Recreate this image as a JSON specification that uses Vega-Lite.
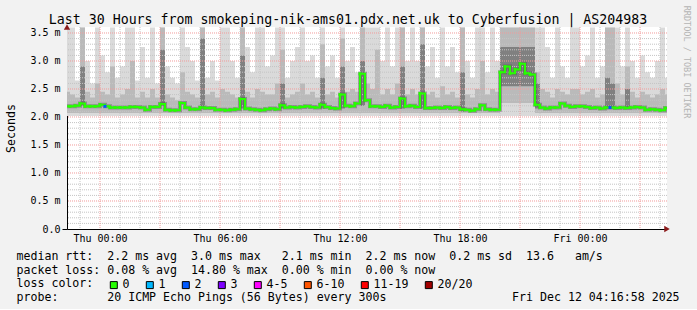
{
"$schema": "https://vega.github.io/schema/vega-lite/v6.json",
"width": 600,
"height": 202,
"padding": {"left": 5, "top": 5, "right": 7, "bottom": 5},
"background": "#f2f2f2",
"config": {
  "font": "DejaVu Sans Mono",
  "view": {"stroke": null, "fill": "#ffffff"},
  "axis": {"labelFont": "DejaVu Sans Mono", "titleFont": "DejaVu Sans Mono"},
  "legend": {"labelFont": "DejaVu Sans Mono", "titleFont": "DejaVu Sans Mono"}
},
"datasets": {
"main": [
{"t":"2025-12-10T22:15","m":2.19,"l":"0","a":2.02,"b":3.6,"c":2.07,"d":2.45,"e":0,"f":0},
{"t":"2025-12-10T22:30","m":2.19,"l":"0","a":2.02,"b":3.6,"c":2.07,"d":2.4,"e":0,"f":0},
{"t":"2025-12-10T22:45","m":2.20,"l":"0","a":2.02,"b":2.65,"c":2.07,"d":2.35,"e":0,"f":0},
{"t":"2025-12-10T23:00","m":2.24,"l":"0","a":2.02,"b":3.6,"c":2.07,"d":3.6,"e":2.2,"f":2.9},
{"t":"2025-12-10T23:15","m":2.19,"l":"0","a":2.02,"b":3.0,"c":2.07,"d":2.45,"e":0,"f":0},
{"t":"2025-12-10T23:30","m":2.19,"l":"0","a":2.02,"b":2.6,"c":2.07,"d":2.35,"e":0,"f":0},
{"t":"2025-12-10T23:45","m":2.19,"l":"0","a":2.02,"b":3.6,"c":2.07,"d":2.6,"e":0,"f":0},
{"t":"2025-12-11T00:00","m":2.22,"l":"0","a":2.02,"b":3.1,"c":2.07,"d":2.45,"e":0,"f":0},
{"t":"2025-12-11T00:15","m":2.19,"l":"2","a":2.02,"b":2.8,"c":2.07,"d":2.4,"e":0,"f":0},
{"t":"2025-12-11T00:30","m":2.17,"l":"0","a":2.02,"b":3.6,"c":2.07,"d":2.9,"e":0,"f":0},
{"t":"2025-12-11T00:45","m":2.17,"l":"0","a":2.02,"b":2.7,"c":2.07,"d":2.35,"e":0,"f":0},
{"t":"2025-12-11T01:00","m":2.17,"l":"0","a":2.02,"b":2.9,"c":2.07,"d":2.4,"e":0,"f":0},
{"t":"2025-12-11T01:15","m":2.17,"l":"0","a":2.02,"b":3.6,"c":2.07,"d":2.5,"e":0,"f":0},
{"t":"2025-12-11T01:30","m":2.18,"l":"0","a":2.02,"b":3.6,"c":2.07,"d":3.0,"e":0,"f":0},
{"t":"2025-12-11T01:45","m":2.18,"l":"0","a":2.02,"b":2.65,"c":2.07,"d":2.35,"e":0,"f":0},
{"t":"2025-12-11T02:00","m":2.17,"l":"0","a":2.02,"b":3.25,"c":2.07,"d":2.45,"e":0,"f":0},
{"t":"2025-12-11T02:15","m":2.13,"l":"0","a":2.02,"b":2.7,"c":2.07,"d":2.35,"e":0,"f":0},
{"t":"2025-12-11T02:30","m":2.18,"l":"0","a":2.02,"b":3.6,"c":2.07,"d":2.5,"e":0,"f":0},
{"t":"2025-12-11T02:45","m":2.18,"l":"0","a":2.02,"b":2.6,"c":2.07,"d":2.35,"e":0,"f":0},
{"t":"2025-12-11T03:00","m":2.23,"l":"0","a":2.02,"b":3.6,"c":2.07,"d":3.6,"e":2.2,"f":3.2},
{"t":"2025-12-11T03:15","m":2.13,"l":"0","a":2.02,"b":2.9,"c":2.07,"d":2.4,"e":0,"f":0},
{"t":"2025-12-11T03:30","m":2.12,"l":"0","a":2.02,"b":2.7,"c":2.07,"d":2.35,"e":0,"f":0},
{"t":"2025-12-11T03:45","m":2.12,"l":"0","a":2.02,"b":2.6,"c":2.07,"d":2.3,"e":0,"f":0},
{"t":"2025-12-11T04:00","m":2.25,"l":"0","a":2.02,"b":3.6,"c":2.07,"d":2.8,"e":0,"f":0},
{"t":"2025-12-11T04:15","m":2.17,"l":"0","a":2.02,"b":3.25,"c":2.07,"d":2.45,"e":0,"f":0},
{"t":"2025-12-11T04:30","m":2.14,"l":"0","a":2.02,"b":3.0,"c":2.07,"d":2.4,"e":0,"f":0},
{"t":"2025-12-11T04:45","m":2.14,"l":"0","a":2.02,"b":2.65,"c":2.07,"d":2.35,"e":0,"f":0},
{"t":"2025-12-11T05:00","m":2.17,"l":"0","a":2.02,"b":3.6,"c":2.07,"d":3.6,"e":2.15,"f":3.4},
{"t":"2025-12-11T05:15","m":2.16,"l":"0","a":2.02,"b":2.7,"c":2.07,"d":2.4,"e":0,"f":0},
{"t":"2025-12-11T05:30","m":2.16,"l":"0","a":2.02,"b":3.0,"c":2.07,"d":2.45,"e":0,"f":0},
{"t":"2025-12-11T05:45","m":2.13,"l":"0","a":2.02,"b":2.65,"c":2.07,"d":2.35,"e":0,"f":0},
{"t":"2025-12-11T06:00","m":2.13,"l":"0","a":2.02,"b":3.6,"c":2.07,"d":2.5,"e":0,"f":0},
{"t":"2025-12-11T06:15","m":2.12,"l":"0","a":2.02,"b":3.6,"c":2.07,"d":2.45,"e":0,"f":0},
{"t":"2025-12-11T06:30","m":2.13,"l":"0","a":2.02,"b":3.0,"c":2.07,"d":2.4,"e":0,"f":0},
{"t":"2025-12-11T06:45","m":2.14,"l":"0","a":2.02,"b":2.7,"c":2.07,"d":2.35,"e":0,"f":0},
{"t":"2025-12-11T07:00","m":2.32,"l":"0","a":2.02,"b":3.6,"c":2.07,"d":3.6,"e":2.15,"f":3.1},
{"t":"2025-12-11T07:15","m":2.15,"l":"0","a":2.02,"b":3.25,"c":2.07,"d":2.45,"e":0,"f":0},
{"t":"2025-12-11T07:30","m":2.14,"l":"0","a":2.02,"b":2.8,"c":2.07,"d":2.35,"e":0,"f":0},
{"t":"2025-12-11T07:45","m":2.13,"l":"0","a":2.02,"b":3.6,"c":2.07,"d":2.5,"e":0,"f":0},
{"t":"2025-12-11T08:00","m":2.12,"l":"0","a":2.02,"b":3.6,"c":2.07,"d":2.45,"e":0,"f":0},
{"t":"2025-12-11T08:15","m":2.14,"l":"0","a":2.02,"b":2.9,"c":2.07,"d":2.4,"e":0,"f":0},
{"t":"2025-12-11T08:30","m":2.15,"l":"0","a":2.02,"b":3.1,"c":2.07,"d":2.4,"e":0,"f":0},
{"t":"2025-12-11T08:45","m":2.14,"l":"0","a":2.02,"b":3.6,"c":2.07,"d":2.6,"e":0,"f":0},
{"t":"2025-12-11T09:00","m":2.21,"l":"0","a":2.02,"b":3.6,"c":2.07,"d":3.2,"e":2.15,"f":2.6},
{"t":"2025-12-11T09:15","m":2.17,"l":"0","a":2.02,"b":2.7,"c":2.07,"d":2.35,"e":0,"f":0},
{"t":"2025-12-11T09:30","m":2.18,"l":"0","a":2.02,"b":3.0,"c":2.07,"d":2.4,"e":0,"f":0},
{"t":"2025-12-11T09:45","m":2.17,"l":"0","a":2.02,"b":3.25,"c":2.07,"d":2.45,"e":0,"f":0},
{"t":"2025-12-11T10:00","m":2.18,"l":"0","a":2.02,"b":3.6,"c":2.07,"d":2.6,"e":0,"f":0},
{"t":"2025-12-11T10:15","m":2.19,"l":"0","a":2.02,"b":3.0,"c":2.07,"d":2.4,"e":0,"f":0},
{"t":"2025-12-11T10:30","m":2.18,"l":"0","a":2.02,"b":3.1,"c":2.07,"d":2.45,"e":0,"f":0},
{"t":"2025-12-11T10:45","m":2.17,"l":"0","a":2.02,"b":2.7,"c":2.07,"d":2.35,"e":0,"f":0},
{"t":"2025-12-11T11:00","m":2.22,"l":"0","a":2.02,"b":3.6,"c":2.07,"d":3.3,"e":2.15,"f":2.7},
{"t":"2025-12-11T11:15","m":2.18,"l":"0","a":2.02,"b":2.9,"c":2.07,"d":2.4,"e":0,"f":0},
{"t":"2025-12-11T11:30","m":2.16,"l":"0","a":2.02,"b":3.1,"c":2.07,"d":2.45,"e":0,"f":0},
{"t":"2025-12-11T11:45","m":2.15,"l":"0","a":2.02,"b":2.7,"c":2.07,"d":2.35,"e":0,"f":0},
{"t":"2025-12-11T12:00","m":2.40,"l":"0","a":2.02,"b":3.6,"c":2.07,"d":3.4,"e":2.15,"f":2.9},
{"t":"2025-12-11T12:15","m":2.20,"l":"0","a":2.02,"b":3.0,"c":2.07,"d":2.45,"e":0,"f":0},
{"t":"2025-12-11T12:30","m":2.19,"l":"0","a":2.02,"b":3.25,"c":2.07,"d":2.5,"e":0,"f":0},
{"t":"2025-12-11T12:45","m":2.24,"l":"0","a":2.02,"b":2.8,"c":2.07,"d":2.45,"e":0,"f":0},
{"t":"2025-12-11T13:00","m":2.77,"l":"0","a":2.02,"b":3.6,"c":2.07,"d":3.6,"e":2.2,"f":3.0},
{"t":"2025-12-11T13:15","m":2.30,"l":"0","a":2.02,"b":3.6,"c":2.07,"d":2.6,"e":0,"f":0},
{"t":"2025-12-11T13:30","m":2.19,"l":"0","a":2.02,"b":3.6,"c":2.07,"d":2.5,"e":0,"f":0},
{"t":"2025-12-11T13:45","m":2.19,"l":"0","a":2.02,"b":3.6,"c":2.07,"d":3.2,"e":0,"f":0},
{"t":"2025-12-11T14:00","m":2.18,"l":"0","a":2.02,"b":3.0,"c":2.07,"d":2.4,"e":0,"f":0},
{"t":"2025-12-11T14:15","m":2.20,"l":"0","a":2.02,"b":3.6,"c":2.07,"d":2.5,"e":0,"f":0},
{"t":"2025-12-11T14:30","m":2.17,"l":"0","a":2.02,"b":2.9,"c":2.07,"d":2.4,"e":0,"f":0},
{"t":"2025-12-11T14:45","m":2.18,"l":"0","a":2.02,"b":3.6,"c":2.07,"d":2.6,"e":0,"f":0},
{"t":"2025-12-11T15:00","m":2.33,"l":"0","a":2.02,"b":3.6,"c":2.07,"d":3.6,"e":2.15,"f":2.9},
{"t":"2025-12-11T15:15","m":2.19,"l":"0","a":2.02,"b":3.0,"c":2.07,"d":2.4,"e":0,"f":0},
{"t":"2025-12-11T15:30","m":2.20,"l":"0","a":2.02,"b":3.6,"c":2.07,"d":2.5,"e":0,"f":0},
{"t":"2025-12-11T15:45","m":2.18,"l":"0","a":2.02,"b":3.0,"c":2.07,"d":2.4,"e":0,"f":0},
{"t":"2025-12-11T16:00","m":2.42,"l":"0","a":2.02,"b":3.6,"c":2.07,"d":3.6,"e":2.15,"f":3.3},
{"t":"2025-12-11T16:15","m":2.16,"l":"0","a":2.02,"b":2.9,"c":2.07,"d":2.4,"e":0,"f":0},
{"t":"2025-12-11T16:30","m":2.16,"l":"0","a":2.02,"b":3.25,"c":2.07,"d":2.45,"e":0,"f":0},
{"t":"2025-12-11T16:45","m":2.17,"l":"0","a":2.02,"b":2.7,"c":2.07,"d":2.35,"e":0,"f":0},
{"t":"2025-12-11T17:00","m":2.16,"l":"0","a":2.02,"b":3.6,"c":2.07,"d":2.55,"e":0,"f":0},
{"t":"2025-12-11T17:15","m":2.18,"l":"0","a":2.02,"b":2.9,"c":2.07,"d":2.4,"e":0,"f":0},
{"t":"2025-12-11T17:30","m":2.16,"l":"0","a":2.02,"b":3.25,"c":2.07,"d":2.45,"e":0,"f":0},
{"t":"2025-12-11T17:45","m":2.17,"l":"0","a":2.02,"b":2.8,"c":2.07,"d":2.35,"e":0,"f":0},
{"t":"2025-12-11T18:00","m":2.14,"l":"0","a":2.02,"b":3.6,"c":2.07,"d":3.6,"e":2.1,"f":2.8},
{"t":"2025-12-11T18:15","m":2.13,"l":"0","a":2.02,"b":3.0,"c":2.07,"d":2.4,"e":0,"f":0},
{"t":"2025-12-11T18:30","m":2.11,"l":"0","a":2.02,"b":2.7,"c":2.07,"d":2.35,"e":0,"f":0},
{"t":"2025-12-11T18:45","m":2.14,"l":"0","a":2.02,"b":3.6,"c":2.07,"d":2.5,"e":0,"f":0},
{"t":"2025-12-11T19:00","m":2.21,"l":"0","a":2.02,"b":3.6,"c":2.07,"d":3.0,"e":0,"f":0},
{"t":"2025-12-11T19:15","m":2.14,"l":"0","a":2.02,"b":2.8,"c":2.07,"d":2.4,"e":0,"f":0},
{"t":"2025-12-11T19:30","m":2.13,"l":"0","a":2.02,"b":3.6,"c":2.07,"d":2.5,"e":0,"f":0},
{"t":"2025-12-11T19:45","m":2.13,"l":"0","a":2.02,"b":3.0,"c":2.07,"d":2.45,"e":0,"f":0},
{"t":"2025-12-11T20:00","m":2.80,"l":"0","a":2.02,"b":3.6,"c":2.25,"d":3.6,"e":2.55,"f":3.25},
{"t":"2025-12-11T20:15","m":2.90,"l":"0","a":2.02,"b":3.6,"c":2.25,"d":3.6,"e":2.55,"f":3.25},
{"t":"2025-12-11T20:30","m":2.78,"l":"0","a":2.02,"b":3.6,"c":2.25,"d":3.6,"e":2.55,"f":3.25},
{"t":"2025-12-11T20:45","m":2.85,"l":"0","a":2.02,"b":3.6,"c":2.25,"d":3.6,"e":2.55,"f":3.25},
{"t":"2025-12-11T21:00","m":2.95,"l":"0","a":2.02,"b":3.6,"c":2.25,"d":3.6,"e":2.55,"f":3.25},
{"t":"2025-12-11T21:15","m":2.78,"l":"0","a":2.02,"b":3.6,"c":2.25,"d":3.6,"e":2.55,"f":3.25},
{"t":"2025-12-11T21:30","m":2.76,"l":"0","a":2.02,"b":3.6,"c":2.25,"d":3.6,"e":2.55,"f":3.25},
{"t":"2025-12-11T21:45","m":2.22,"l":"0","a":2.02,"b":3.6,"c":2.07,"d":2.8,"e":2.15,"f":2.6},
{"t":"2025-12-11T22:00","m":2.17,"l":"0","a":2.02,"b":3.6,"c":2.07,"d":2.5,"e":0,"f":0},
{"t":"2025-12-11T22:15","m":2.15,"l":"0","a":2.02,"b":3.25,"c":2.07,"d":2.45,"e":0,"f":0},
{"t":"2025-12-11T22:30","m":2.17,"l":"0","a":2.02,"b":2.7,"c":2.07,"d":2.35,"e":0,"f":0},
{"t":"2025-12-11T22:45","m":2.17,"l":"0","a":2.02,"b":3.6,"c":2.07,"d":2.5,"e":0,"f":0},
{"t":"2025-12-11T23:00","m":2.24,"l":"0","a":2.02,"b":2.9,"c":2.07,"d":2.45,"e":0,"f":0},
{"t":"2025-12-11T23:15","m":2.20,"l":"0","a":2.02,"b":2.7,"c":2.07,"d":2.4,"e":0,"f":0},
{"t":"2025-12-11T23:30","m":2.18,"l":"0","a":2.02,"b":3.6,"c":2.07,"d":2.5,"e":0,"f":0},
{"t":"2025-12-11T23:45","m":2.19,"l":"0","a":2.02,"b":3.6,"c":2.07,"d":2.5,"e":0,"f":0},
{"t":"2025-12-12T00:00","m":2.19,"l":"0","a":2.02,"b":2.9,"c":2.07,"d":2.4,"e":0,"f":0},
{"t":"2025-12-12T00:15","m":2.18,"l":"0","a":2.02,"b":3.1,"c":2.07,"d":2.45,"e":0,"f":0},
{"t":"2025-12-12T00:30","m":2.16,"l":"0","a":2.02,"b":3.6,"c":2.07,"d":2.5,"e":0,"f":0},
{"t":"2025-12-12T00:45","m":2.17,"l":"0","a":2.02,"b":2.7,"c":2.07,"d":2.35,"e":0,"f":0},
{"t":"2025-12-12T01:00","m":2.15,"l":"0","a":2.02,"b":2.9,"c":2.07,"d":2.4,"e":0,"f":0},
{"t":"2025-12-12T01:15","m":2.17,"l":"0","a":2.02,"b":3.6,"c":2.07,"d":3.6,"e":2.15,"f":2.7},
{"t":"2025-12-12T01:30","m":2.17,"l":"2","a":2.02,"b":3.6,"c":2.07,"d":3.6,"e":2.15,"f":2.6},
{"t":"2025-12-12T01:45","m":2.16,"l":"0","a":2.02,"b":3.6,"c":2.07,"d":2.6,"e":0,"f":0},
{"t":"2025-12-12T02:00","m":2.17,"l":"0","a":2.02,"b":2.9,"c":2.07,"d":2.4,"e":0,"f":0},
{"t":"2025-12-12T02:15","m":2.16,"l":"0","a":2.02,"b":3.6,"c":2.07,"d":2.9,"e":2.15,"f":2.5},
{"t":"2025-12-12T02:30","m":2.17,"l":"0","a":2.02,"b":3.0,"c":2.07,"d":2.45,"e":0,"f":0},
{"t":"2025-12-12T02:45","m":2.18,"l":"0","a":2.02,"b":2.7,"c":2.07,"d":2.35,"e":0,"f":0},
{"t":"2025-12-12T03:00","m":2.17,"l":"0","a":2.02,"b":3.1,"c":2.07,"d":2.45,"e":0,"f":0},
{"t":"2025-12-12T03:15","m":2.13,"l":"0","a":2.02,"b":2.8,"c":2.07,"d":2.4,"e":0,"f":0},
{"t":"2025-12-12T03:30","m":2.14,"l":"0","a":2.02,"b":2.7,"c":2.07,"d":2.35,"e":0,"f":0},
{"t":"2025-12-12T03:45","m":2.13,"l":"0","a":2.02,"b":3.0,"c":2.07,"d":2.4,"e":0,"f":0},
{"t":"2025-12-12T04:00","m":2.12,"l":"0","a":2.02,"b":3.6,"c":2.07,"d":2.5,"e":0,"f":0},
{"t":"2025-12-12T04:15","m":2.16,"l":"0","a":2.02,"b":2.7,"c":2.07,"d":2.4,"e":0,"f":0},
{"t":"2025-12-12T04:30","m":2.16,"l":"0","a":2.02,"b":2.7,"c":2.07,"d":2.4,"e":0,"f":0}
],
"hg": [
{"v":0.1,"major":false},{"v":0.2,"major":false},{"v":0.3,"major":false},{"v":0.4,"major":false},{"v":0.5,"major":true},
{"v":0.6,"major":false},{"v":0.7,"major":false},{"v":0.8,"major":false},{"v":0.9,"major":false},{"v":1.0,"major":true},
{"v":1.1,"major":false},{"v":1.2,"major":false},{"v":1.3,"major":false},{"v":1.4,"major":false},{"v":1.5,"major":true},
{"v":1.6,"major":false},{"v":1.7,"major":false},{"v":1.8,"major":false},{"v":1.9,"major":false},{"v":2.0,"major":true},
{"v":2.1,"major":false},{"v":2.2,"major":false},{"v":2.3,"major":false},{"v":2.4,"major":false},{"v":2.5,"major":true},
{"v":2.6,"major":false},{"v":2.7,"major":false},{"v":2.8,"major":false},{"v":2.9,"major":false},{"v":3.0,"major":true},
{"v":3.1,"major":false},{"v":3.2,"major":false},{"v":3.3,"major":false},{"v":3.4,"major":false},{"v":3.5,"major":true}
],
"vg": [
{"t":"2025-12-10T23:00","major":false},{"t":"2025-12-11T00:00","major":true},{"t":"2025-12-11T01:00","major":false},
{"t":"2025-12-11T02:00","major":false},{"t":"2025-12-11T03:00","major":true},{"t":"2025-12-11T04:00","major":false},
{"t":"2025-12-11T05:00","major":false},{"t":"2025-12-11T06:00","major":true},{"t":"2025-12-11T07:00","major":false},
{"t":"2025-12-11T08:00","major":false},{"t":"2025-12-11T09:00","major":true},{"t":"2025-12-11T10:00","major":false},
{"t":"2025-12-11T11:00","major":false},{"t":"2025-12-11T12:00","major":true},{"t":"2025-12-11T13:00","major":false},
{"t":"2025-12-11T14:00","major":false},{"t":"2025-12-11T15:00","major":true},{"t":"2025-12-11T16:00","major":false},
{"t":"2025-12-11T17:00","major":false},{"t":"2025-12-11T18:00","major":true},{"t":"2025-12-11T19:00","major":false},
{"t":"2025-12-11T20:00","major":false},{"t":"2025-12-11T21:00","major":true},{"t":"2025-12-11T22:00","major":false},
{"t":"2025-12-11T23:00","major":false},{"t":"2025-12-12T00:00","major":true},{"t":"2025-12-12T01:00","major":false},
{"t":"2025-12-12T02:00","major":false},{"t":"2025-12-12T03:00","major":true},{"t":"2025-12-12T04:00","major":false}
]
},
"layer": [
{"data": {"name": "main"},
 "mark": {"type": "area", "interpolate": "step-after", "color": "#dadada", "clip": true},
 "encoding": {
  "x": {"field": "t", "type": "temporal",
        "scale": {"domain": [{"year":2025,"month":12,"date":10,"hours":22,"minutes":21},{"year":2025,"month":12,"date":12,"hours":4,"minutes":21}]},
        "axis": {"orient": "bottom", "values": [{"year":2025,"month":12,"date":11,"hours":0},{"year":2025,"month":12,"date":11,"hours":6},{"year":2025,"month":12,"date":11,"hours":12},{"year":2025,"month":12,"date":11,"hours":18},{"year":2025,"month":12,"date":12,"hours":0}],
                 "format": "%a %H:%M", "labelFontSize": 10, "labelColor": "#000", "labelPadding": 4, "ticks": false, "grid": false,
                 "domainColor": "#000", "labelOverlap": false, "labelFlush": false,
                 "title": ["median rtt:\u00a0\u00a02.2 ms avg\u00a0\u00a03.0 ms max\u00a0\u00a0\u00a02.1 ms min\u00a0\u00a02.2 ms now\u00a0\u00a00.2 ms sd\u00a0\u00a013.6\u00a0\u00a0\u00a0am/s",
                           "packet loss: 0.08 % avg\u00a0\u00a014.80 % max\u00a0\u00a00.00 % min\u00a0\u00a00.00 % now",
                           "loss color:",
                           "probe:\u00a0\u00a0\u00a0\u00a0\u00a0\u00a0\u00a020 ICMP Echo Pings (56 Bytes) every 300s\u00a0\u00a0\u00a0\u00a0\u00a0\u00a0\u00a0\u00a0\u00a0\u00a0\u00a0\u00a0\u00a0\u00a0\u00a0\u00a0\u00a0\u00a0Fri Dec 12 04:16:58 2025"],
                 "titleAnchor": "start", "titleAlign": "left", "titleBaseline": "top", "titleX": -51, "titleY": 21.6,
                 "titleLineHeight": 13.67, "titleFontSize": 11.6, "titleFontWeight": "normal", "titleColor": "#000"}},
  "y": {"field": "a", "type": "quantitative", "scale": {"domain": [0, 3.607], "nice": false},
        "axis": {"orient": "left", "title": "Seconds", "values": [0,0.5,1,1.5,2,2.5,3,3.5],
                 "labelExpr": "datum.value == 0 ? '0.0' : format(datum.value, '.1f') + ' m'",
                 "grid": false, "domainColor": "#000", "tickSize": 5,
                 "tickColor": {"condition": {"test": "datum.value == 0", "value": "#000"}, "value": "transparent"},
                 "labelPadding": 2, "labelFontSize": 10, "labelColor": "#000",
                 "titlePadding": 13, "titleFontSize": 11.6, "titleFontWeight": "normal", "titleColor": "#000"}},
  "y2": {"field": "b"}
 }},
{"data": {"name": "main"},
 "mark": {"type": "area", "interpolate": "step-after", "color": "#bababa", "clip": true},
 "encoding": {"x": {"field": "t", "type": "temporal", "axis": null},
  "y": {"field": "c", "type": "quantitative", "axis": null}, "y2": {"field": "d"}}},
{"data": {"name": "main"},
 "mark": {"type": "area", "interpolate": "step-after", "color": "#808080", "clip": true},
 "encoding": {"x": {"field": "t", "type": "temporal", "axis": null},
  "y": {"field": "e", "type": "quantitative", "axis": null}, "y2": {"field": "f"}}},
{"data": {"name": "hg"}, "transform": [{"filter": "!datum.major"}],
 "mark": {"type": "rule", "color": "#c4c4c4", "strokeDash": [1, 1], "strokeWidth": 1},
 "encoding": {"y": {"field": "v", "type": "quantitative", "axis": null}}},
{"data": {"name": "vg"}, "transform": [{"filter": "!datum.major"}],
 "mark": {"type": "rule", "color": "#c4c4c4", "strokeDash": [1, 1], "strokeWidth": 1},
 "encoding": {"x": {"field": "t", "type": "temporal", "axis": null}}},
{"data": {"name": "hg"}, "transform": [{"filter": "datum.major"}],
 "mark": {"type": "rule", "color": "#f29a9a", "strokeDash": [1, 1], "strokeWidth": 1},
 "encoding": {"y": {"field": "v", "type": "quantitative", "axis": null}}},
{"data": {"name": "vg"}, "transform": [{"filter": "datum.major"}],
 "mark": {"type": "rule", "color": "#f29a9a", "strokeDash": [1, 1], "strokeWidth": 1},
 "encoding": {"x": {"field": "t", "type": "temporal", "axis": null}}},
{"data": {"name": "main"},
 "mark": {"type": "line", "interpolate": "step-after", "color": "#4a4a4a", "strokeWidth": 4, "opacity": 0.4, "clip": true},
 "encoding": {"x": {"field": "t", "type": "temporal", "axis": null},
  "y": {"field": "m", "type": "quantitative", "axis": null}}},
{"data": {"name": "main"},
 "mark": {"type": "line", "interpolate": "step-after", "color": "#26ff00", "strokeWidth": 2, "clip": true},
 "encoding": {"x": {"field": "t", "type": "temporal", "axis": null},
  "y": {"field": "m", "type": "quantitative", "axis": null}}},
{"data": {"name": "main"},
 "mark": {"type": "point", "shape": "square", "filled": true, "size": 9, "opacity": 1, "clip": true},
 "encoding": {"x": {"field": "t", "type": "temporal", "axis": null},
  "y": {"field": "m", "type": "quantitative", "axis": null},
  "color": {"field": "l", "type": "nominal",
    "scale": {"domain": ["0","1","2","3","4-5","6-10","11-19","20/20"], "range": ["#26ff00","#00b8ff","#0059ff","#7e00ff","#ff00ff","#ff5500","#ff0000","#a10000"]},
    "legend": {"title": null, "orient": "none", "legendX": 41, "legendY": 252, "direction": "horizontal", "columns": 8,
               "symbolType": "square", "symbolSize": 49, "symbolStrokeColor": "#000", "symbolStrokeWidth": 1,
               "symbolOpacity": 1, "labelOffset": 3, "columnPadding": 14, "labelFontSize": 11.6,
               "labelColor": "#000", "padding": 0,
               "encode": {"symbols": {"update": {"stroke": {"value": "#000"}, "strokeWidth": {"value": 1}}}}}}}},
{"data": {"values": [{}]},
 "mark": {"type": "point", "shape": "triangle-right", "filled": true, "color": "#8b1a1a", "size": 40, "opacity": 1, "dx": 3},
 "encoding": {"x": {"datum": {"year":2025,"month":12,"date":12,"hours":4,"minutes":21}, "type": "temporal",
                    "axis": {"orient": "top", "title": "Last 30 Hours from smokeping-nik-ams01.pdx.net.uk to Cyberfusion | AS204983",
                             "labels": false, "ticks": false, "domain": false, "grid": false,
                             "titleAnchor": "start", "titleAlign": "center", "titleX": 280.5, "titleY": -3.2, "titleBaseline": "alphabetic",
                             "titleFontSize": 13.25, "titleFontWeight": "normal", "titleColor": "#000"}},
  "y": {"datum": 0, "type": "quantitative", "axis": null}}},
{"data": {"values": [{}]},
 "mark": {"type": "point", "shape": "triangle-up", "filled": true, "color": "#8b1a1a", "size": 40, "opacity": 1, "dy": -3},
 "encoding": {"x": {"datum": {"year":2025,"month":12,"date":10,"hours":22,"minutes":21}, "type": "temporal", "axis": null},
  "y": {"datum": 3.607, "type": "quantitative",
        "axis": {"orient": "right", "title": "RRDTOOL / TOBI OETIKER", "labels": false, "ticks": false, "domain": false, "grid": false,
                 "titleAngle": 90, "titleX": 19, "titleY": 34.5, "titleAlign": "center", "titleBaseline": "middle",
                 "titleFontSize": 8.5, "titleColor": "#b4b4b4", "titleFontWeight": "normal"}}}}
],
"resolve": {"axis": {"x": "independent", "y": "independent"}}
}
